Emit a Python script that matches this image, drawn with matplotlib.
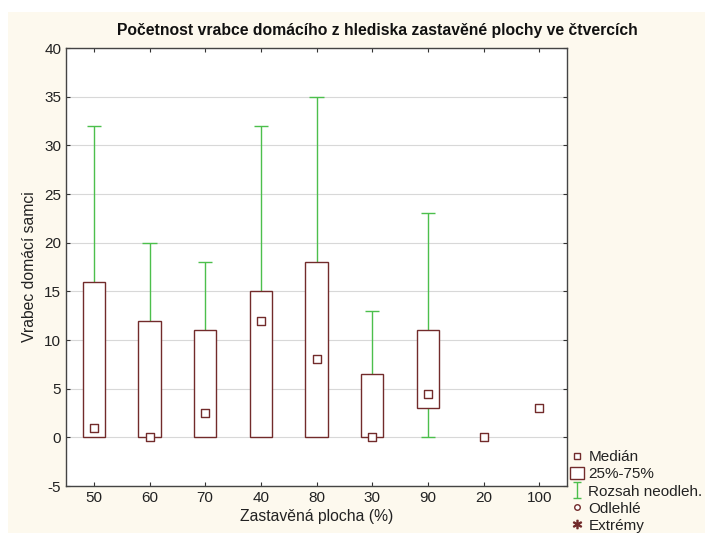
import numpy as np
import matplotlib
matplotlib.use("Agg")
import matplotlib.pyplot as plt
from matplotlib.patches import Rectangle
from matplotlib.lines import Line2D
from matplotlib.path import Path

plt.rcParams['font.family'] = ['Liberation Sans', 'DejaVu Sans']
plt.rcParams['axes.unicode_minus'] = False

# data
categories = ["50", "60", "70", "40", "80", "30", "90", "20", "100"]
medians = [1, 0, 2.5, 12, 8, 0, 4.5, 0, 3]
q25 = [0, 0, 0, 0, 0, 0, 3, None, None]
q75 = [16, 12, 11, 15, 18, 6.5, 11, None, None]
w_min = [0, 0, 0, 0, 0, 0, 0, None, None]
w_max = [32, 20, 18, 32, 35, 13, 23, None, None]

box_col = "#722b2b"
wh_col = "#4cbf4c"
cream = "#fdf9ee"

fig = plt.figure(figsize=(7.05, 5.35), dpi=100, facecolor="white")
fig.patches.append(Rectangle((8 / 705, 2 / 535), 697 / 705, 521 / 535,
                             transform=fig.transFigure, facecolor=cream,
                             edgecolor="none", zorder=-1))
ax = fig.add_axes([66 / 705, 1 - 486 / 535, 501 / 705, 438 / 535])
ax.set_facecolor("white")

x = np.arange(1, len(categories) + 1)
for i, xi in enumerate(x):
    if q25[i] is None:
        continue
    # whiskers
    ax.vlines(xi, q75[i], w_max[i], color=wh_col, lw=1, zorder=2)
    ax.hlines(w_max[i], xi - 0.13, xi + 0.13, color=wh_col, lw=1, zorder=2)
    if w_min[i] < q25[i]:
        ax.vlines(xi, w_min[i], q25[i], color=wh_col, lw=1, zorder=2)
        ax.hlines(w_min[i], xi - 0.13, xi + 0.13, color=wh_col, lw=1, zorder=2)
    ax.bar(xi, q75[i] - q25[i], bottom=q25[i], width=0.4,
           facecolor="white", edgecolor=box_col, lw=1, zorder=3)

ax.scatter(x, medians, marker="s", s=26, facecolor="white",
           edgecolor=box_col, linewidth=1, zorder=4)

ax.set_xlim(0.5, len(categories) + 0.5)
ax.set_ylim(-5, 40)
ax.set_yticks(np.arange(-5, 41, 5))
ax.set_xticks(x)
ax.set_xticklabels(categories)
ax.yaxis.grid(True, color="#d8d8d8", lw=0.8)
ax.set_axisbelow(True)
ax.tick_params(direction="in", length=3, labelsize=11, color="#333333",
               top=True, right=True, labelcolor="#222222")
for s in ax.spines.values():
    s.set_color("#444444")
    s.set_linewidth(1)

ax.set_xlabel("Zastavěná plocha (%)", fontsize=11.3, color="#222222", labelpad=3)
ax.set_ylabel("Vrabec domácí samci", fontsize=11.3, color="#222222", labelpad=5)
fig.text(377 / 705, 1 - 30 / 535,
         "Početnost vrabce domácího z hlediska zastavěné plochy ve čtvercích",
         ha="center", va="center", fontsize=11.3, fontweight="bold", color="#111111")

ibeam = Path([(-0.5, -1), (0.5, -1), (0, -1), (0, 1), (-0.5, 1), (0.5, 1)],
             [Path.MOVETO, Path.LINETO, Path.MOVETO, Path.LINETO, Path.MOVETO, Path.LINETO])
handles = [
    Line2D([], [], ls="none", marker="s", ms=5, mfc="white", mec=box_col, mew=1),
    Rectangle((0, 0), 1, 1, facecolor="white", edgecolor=box_col, lw=1),
    Line2D([], [], ls="none", marker=ibeam, ms=11, mfc="none", mec=wh_col, mew=1),
    Line2D([], [], ls="none", marker="o", ms=4, mfc="white", mec=box_col, mew=1),
    Line2D([], [], ls="none", marker="$*$", ms=6, color=box_col),
]
labels = ["Medián", "25%-75%", "Rozsah neodleh.", "Odlehlé", "Extrémy"]
fig.legend(handles, labels, loc="upper left", bbox_to_anchor=(570 / 705, 1 - 450 / 535),
           frameon=False, fontsize=11, handlelength=0.9, handletextpad=0.3,
           handleheight=0.8, labelspacing=0.2, borderpad=0, borderaxespad=0,
           labelcolor="#222222")

fig.savefig("out.png", dpi=100, facecolor=fig.get_facecolor())
